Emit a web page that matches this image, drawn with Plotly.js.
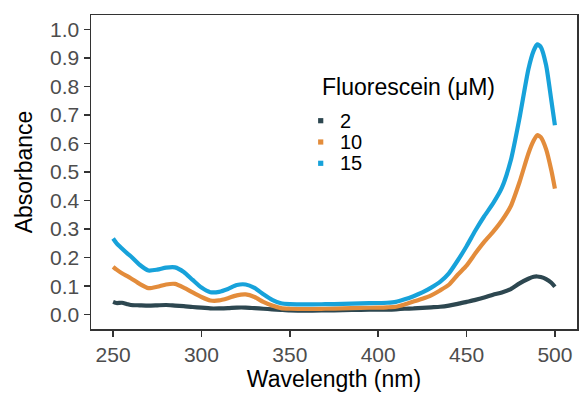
<!DOCTYPE html>
<html>
<head>
<meta charset="utf-8">
<script src="https://cdn.plot.ly/plotly-3.0.1.min.js"></script>
<style>html,body{margin:0;padding:0;background:#fff;}#chart{width:580px;height:394px;}</style>
</head>
<body>
<div id="chart"></div>
<script>
const wavelength = [250,252,255,258,260,265,270,275,280,285,290,295,300,305,310,315,320,325,330,335,340,345,350,360,370,380,390,400,405,410,415,420,425,430,435,440,445,450,455,460,465,470,475,480,485,488,490,492,495,498,500];
const abs2 = [0.045,0.041,0.042,0.037,0.034,0.033,0.032,0.033,0.034,0.032,0.030,0.027,0.025,0.022,0.022,0.023,0.025,0.025,0.023,0.021,0.019,0.017,0.015,0.014,0.015,0.016,0.017,0.018,0.018,0.019,0.021,0.022,0.024,0.026,0.028,0.032,0.038,0.045,0.052,0.060,0.070,0.078,0.090,0.110,0.126,0.133,0.134,0.132,0.125,0.112,0.098];
const abs10 = [0.168,0.158,0.145,0.135,0.128,0.108,0.093,0.098,0.106,0.108,0.095,0.078,0.062,0.050,0.050,0.058,0.068,0.071,0.062,0.045,0.032,0.023,0.021,0.020,0.021,0.022,0.024,0.025,0.026,0.028,0.036,0.046,0.056,0.068,0.085,0.105,0.140,0.172,0.215,0.255,0.290,0.330,0.380,0.465,0.565,0.610,0.629,0.622,0.580,0.505,0.442];
const abs15 = [0.267,0.250,0.232,0.215,0.205,0.175,0.155,0.158,0.165,0.166,0.150,0.122,0.095,0.079,0.080,0.090,0.104,0.106,0.094,0.072,0.052,0.040,0.037,0.036,0.037,0.038,0.040,0.041,0.042,0.045,0.054,0.065,0.078,0.095,0.115,0.145,0.190,0.240,0.295,0.345,0.390,0.445,0.540,0.690,0.860,0.925,0.947,0.938,0.875,0.750,0.664];
const seriesNames = ["2","10","15"];
const seriesColors = ["#2d4750","#e38c3b","#17a2da"];
const legendTitle = "Fluorescein (μM)";
const xTicks = [250,300,350,400,450,500];
const yTicks = [0.0,0.1,0.2,0.3,0.4,0.5,0.6,0.7,0.8,0.9,1.0];

const allY = [abs2, abs10, abs15];
const traces = allY.map((ys, i) => ({
  x: wavelength, y: ys, type: 'scatter', mode: 'lines', name: seriesNames[i],
  line: {color: seriesColors[i], width: 4.2, shape: 'spline', smoothing: 0.6},
  showlegend: false, hoverinfo: 'skip'
}));

// Legend drawn as key squares + text (paper coordinates)
const margin = {l: 91, r: 3, t: 15, b: 65};
const W = 580, H = 394;
const plotW = W - margin.l - margin.r, plotH = H - margin.t - margin.b;
const px2x = px => (px - margin.l) / plotW;
const py2y = py => (H - margin.b - py) / plotH;
const legKeyX = 320.7, legTextX = 338, legFirstY = 120.7, legStep = 21.3, legTitleY = 87, legTitleX = 320;

const shapes = [];
const annotations = [{
  text: legendTitle, xref: 'paper', yref: 'paper', x: px2x(legTitleX), y: py2y(legTitleY),
  xanchor: 'left', yanchor: 'middle', showarrow: false,
  font: {size: 23, color: '#000000'}
}];
seriesNames.forEach((nm, i) => {
  const cy = legFirstY + i * legStep;
  shapes.push({type: 'rect', xref: 'paper', yref: 'paper',
    xsizemode: 'pixel', ysizemode: 'pixel', xanchor: px2x(legKeyX), yanchor: py2y(cy),
    x0: -2.6, x1: 2.6, y0: -2.6, y1: 2.6,
    fillcolor: seriesColors[i], line: {width: 0}});
  annotations.push({text: nm, xref: 'paper', yref: 'paper', x: px2x(legTextX), y: py2y(cy),
    xanchor: 'left', yanchor: 'middle', showarrow: false,
    font: {size: 20, color: '#000000'}});
});

const axisCommon = {
  showline: true, mirror: true, linecolor: '#333333', linewidth: 1.5,
  ticks: 'outside', ticklen: 6, tickwidth: 1.5, tickcolor: '#333333',
  showgrid: false, zeroline: false,
  tickfont: {family: 'Liberation Sans, Arial, sans-serif', size: 21, color: '#4d4d4d'}
};

const layout = {
  width: W, height: H,
  margin: margin,
  paper_bgcolor: '#ffffff', plot_bgcolor: '#ffffff',
  font: {family: 'Liberation Sans, Arial, sans-serif', color: '#000000'},
  showlegend: false,
  xaxis: Object.assign({}, axisCommon, {
    range: [237.5, 512.5], tickvals: xTicks, ticktext: xTicks.map(String),
    title: {text: 'Wavelength (nm)', font: {size: 23, color: '#000000'}, standoff: 5}
  }),
  yaxis: Object.assign({}, axisCommon, {
    range: [-0.05, 1.05], tickvals: yTicks, ticktext: yTicks.map(v => v.toFixed(1)),
    title: {text: 'Absorbance', font: {size: 23, color: '#000000'}, standoff: 11}
  }),
  shapes: shapes,
  annotations: annotations
};

Plotly.newPlot('chart', traces, layout, {staticPlot: true, displayModeBar: false});
</script>
</body>
</html>
